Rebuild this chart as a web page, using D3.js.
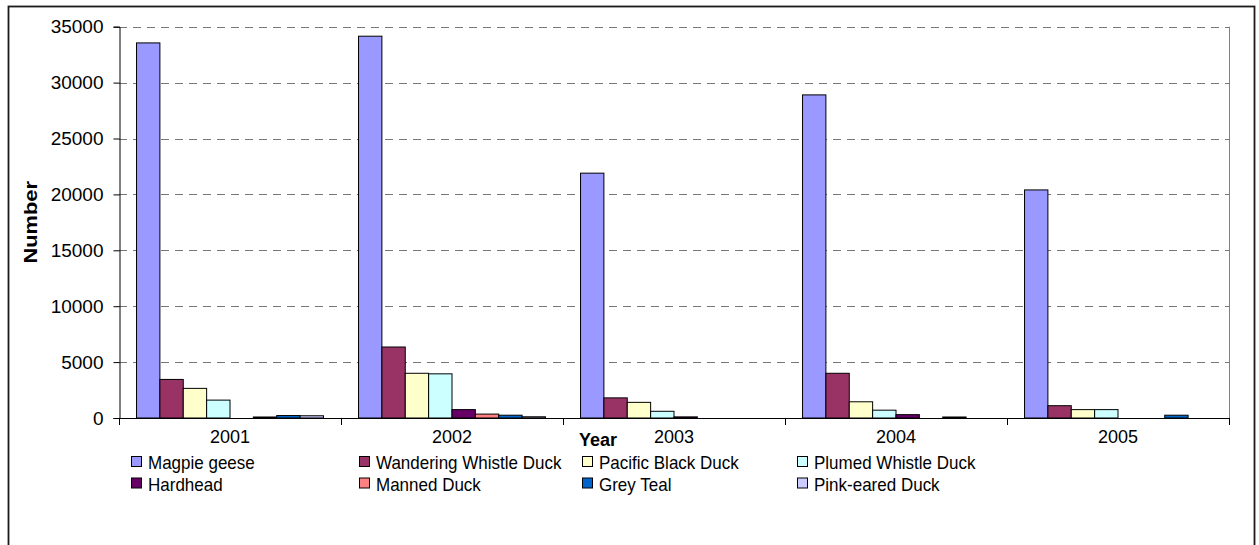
<!DOCTYPE html>
<html>
<head>
<meta charset="utf-8">
<script src="https://cdn.jsdelivr.net/npm/d3@7"></script>
<style>
  html, body { margin: 0; padding: 0; background: #fff; }
  svg { display: block; font-family: "Liberation Sans", Arial, sans-serif; }
</style>
</head>
<body>
<svg id="chart" width="1259" height="545"></svg>
<script>
// Waterbird counts by year
const years = ["2001", "2002", "2003", "2004", "2005"];
const species = ["Magpie geese", "Wandering Whistle Duck", "Pacific Black Duck", "Plumed Whistle Duck",
                 "Hardhead", "Manned Duck", "Grey Teal", "Pink-eared Duck"];
const magpieGeese          = [33550, 34150, 21900, 28900, 20400];
const wanderingWhistleDuck = [3450, 6350, 1800, 4000, 1100];
const pacificBlackDuck     = [2650, 4000, 1400, 1450, 750];
const plumedWhistleDuck    = [1600, 3950, 600, 700, 750];
const hardhead             = [0, 750, 100, 300, 0];
const mannedDuck           = [90, 350, 0, 0, 0];
const greyTeal             = [220, 250, 0, 90, 250];
const pinkEaredDuck        = [200, 110, 0, 0, 0];
const yTicks = [0, 5000, 10000, 15000, 20000, 25000, 30000, 35000];
const colors = ["#9999FF", "#993366", "#FFFFCC", "#CCFFFF", "#660066", "#FF8080", "#0066CC", "#CCCCFF"];

const seriesValues = [magpieGeese, wanderingWhistleDuck, pacificBlackDuck, plumedWhistleDuck,
                      hardhead, mannedDuck, greyTeal, pinkEaredDuck];

const svg = d3.select("#chart");

// outer chart frame
svg.append("rect")
  .attr("x", 8.5).attr("y", 6.5).attr("width", 1246).attr("height", 600)
  .attr("fill", "none").attr("stroke", "#1a1a1a").attr("stroke-width", 1.8);

const plot = { left: 119, right: 1229, top: 26.7, bottom: 418 };

const x0 = d3.scaleBand().domain(years).range([plot.left, plot.right]).padding(0);
const x1 = d3.scaleBand().domain(species).range([0, x0.bandwidth()])
  .paddingInner(0).paddingOuter(0.75);
const y = d3.scaleLinear().domain([0, 35000]).range([plot.bottom, plot.top]);
const color = d3.scaleOrdinal().domain(species).range(colors);

// horizontal gridlines
svg.append("g")
  .selectAll("line")
  .data(yTicks.filter(t => t > 0))
  .join("line")
  .attr("x1", plot.left).attr("x2", plot.right)
  .attr("y1", d => Math.round(y(d)) + 0.5).attr("y2", d => Math.round(y(d)) + 0.5)
  .attr("stroke", "#777").attr("stroke-width", 1).attr("stroke-dasharray", "8,6");

// right edge of the plot area
svg.append("line")
  .attr("x1", plot.right + 0.5).attr("x2", plot.right + 0.5)
  .attr("y1", plot.top).attr("y2", plot.bottom)
  .attr("stroke", "#808080").attr("stroke-width", 1);

// bars
const rows = years.map((yr, i) => ({ year: yr, vals: species.map((s, j) => ({ s, v: seriesValues[j][i] })) }));
const groups = svg.append("g").selectAll("g")
  .data(rows).join("g")
  .attr("transform", d => `translate(${x0(d.year)},0)`);
groups.selectAll("rect")
  .data(d => d.vals.filter(e => e.v > 0))
  .join("rect")
  .attr("x", d => x1(d.s))
  .attr("y", d => y(d.v))
  .attr("width", x1.bandwidth())
  .attr("height", d => y(0) - y(d.v))
  .attr("fill", d => color(d.s))
  .attr("stroke", "#000").attr("stroke-width", 1);

// y axis
const yAxis = d3.axisLeft(y).tickValues(yTicks).tickSize(6).tickPadding(10).tickFormat(d3.format("d"));
const gy = svg.append("g").attr("transform", `translate(${plot.left + 0.5},0)`).call(yAxis);
gy.select(".domain").attr("stroke", "#000");
gy.selectAll(".tick line").attr("stroke", "#000");
gy.selectAll("text").attr("font-size", 19).attr("fill", "#000")
  .attr("font-family", "Liberation Sans, Arial, sans-serif");

// x axis: ticks on category boundaries, labels centred in each band
svg.append("line")
  .attr("x1", plot.left).attr("x2", plot.right + 1)
  .attr("y1", plot.bottom + 0.5).attr("y2", plot.bottom + 0.5)
  .attr("stroke", "#000");
const boundaries = years.map(yr => x0(yr)).concat([plot.right]);
svg.append("g").selectAll("line")
  .data(boundaries).join("line")
  .attr("x1", d => Math.round(d) + 0.5).attr("x2", d => Math.round(d) + 0.5)
  .attr("y1", plot.bottom).attr("y2", plot.bottom + 7)
  .attr("stroke", "#000");
svg.append("g").selectAll("text")
  .data(years).join("text")
  .attr("x", d => x0(d) + x0.bandwidth() / 2)
  .attr("y", 443)
  .attr("text-anchor", "middle")
  .attr("font-size", 18)
  .text(d => d);

// axis titles
svg.append("text")
  .attr("x", 598).attr("y", 446)
  .attr("text-anchor", "middle").attr("font-size", 18).attr("font-weight", "bold")
  .text("Year");
svg.append("text")
  .attr("transform", `translate(37,${(plot.top + plot.bottom) / 2}) rotate(-90) scale(1.15,1)`)
  .attr("text-anchor", "middle").attr("font-size", 19).attr("font-weight", "bold")
  .text("Number");

// legend: 4 columns x 2 rows
const legendCols = [131, 359, 582, 797];
const legend = svg.append("g");
const lg = legend.selectAll("g")
  .data(species).join("g")
  .attr("transform", (d, i) => `translate(${legendCols[i % 4]},${462 + Math.floor(i / 4) * 21.5})`);
lg.append("rect")
  .attr("x", 0.5).attr("y", -5.5).attr("width", 10).attr("height", 10)
  .attr("fill", d => color(d)).attr("stroke", "#000");
lg.append("text")
  .attr("x", 17).attr("y", 6.5)
  .attr("font-size", 17)
  .attr("transform", "scale(1,1.08)")
  .text(d => d);
</script>
</body>
</html>
